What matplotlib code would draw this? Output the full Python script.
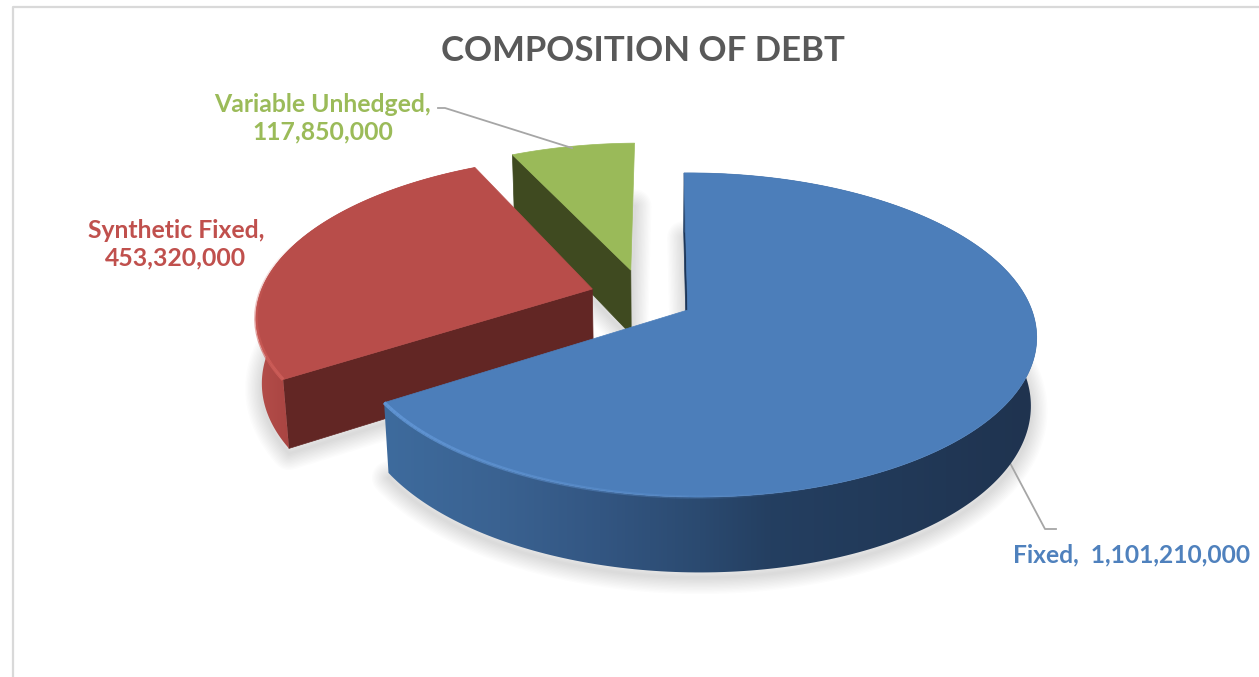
import matplotlib
matplotlib.use('Agg')
import matplotlib.pyplot as plt
from matplotlib.patches import Polygon
from matplotlib.collections import LineCollection
from matplotlib.colors import to_rgb
import numpy as np

plt.rcParams['font.family'] = ['Lato', 'DejaVu Sans']

title = 'COMPOSITION OF DEBT'
names = ['Fixed', 'Synthetic Fixed', 'Variable Unhedged']
values = [1101210000, 453320000, 117850000]
top_colors = ['#4c7eba', '#b84d4a', '#9aba59']
cut_colors = ['#1b3558', '#622624', '#3f4a20']
text_colors = ['#4f81bd', '#c0504d', '#9bbb59']

# camera for the tilted disc, everything in pixels
fx, fy = 660, 310
a, b, k, j = 338, 158, 0.154, -0.015
drop, q = 67.6, 0.015

# how far each slice is pulled out of the pie (disc units), and its radius
explode = [(0.082, 0.0), (-0.205, 0.136), (-0.09, 0.263)]
radius = [1.0, 1.02, 1.0]

# side wall shading, by screen x
wall_x = [[385, 500, 600, 700, 770, 1035], [250, 300]]
wall_c = [['#3e6b9d', '#3a6291', '#335682', '#2b4a70', '#243f61', '#1f334f'],
          ['#b6504c', '#a6413f']]


def project(u, v, low=False):
    w = 1 + k*v + j*u + (q if low else 0)
    x = fx + a*u/w
    y = fy + (-b*v + (drop if low else 0))/w
    return np.column_stack([x, y])


fig = plt.figure(figsize=(12.59, 6.77), dpi=100)
ax = fig.add_axes([0, 0, 1, 1])
ax.axis('off')

# chart frame, only top and left are in view
ax.plot([13.5, 13.5, 1259], [677, 6.5, 6.5], color='#d9d9d9', lw=1.6, zorder=1)

sweeps = np.array(values)/sum(values)*360
starts = np.concatenate([[0], np.cumsum(sweeps)[:-1]])

# soft shadows first so that they stay behind every slice
for s in range(3):
    th = np.radians(np.linspace(starts[s], starts[s] + sweeps[s], 160))
    ox, oy = explode[s]
    low = project(np.r_[ox, ox + radius[s]*np.sin(th)],
                  np.r_[oy, oy + radius[s]*np.cos(th)], low=True)
    low[:, 1] += 5
    for lw in np.linspace(24, 2, 12):
        ax.add_patch(Polygon(low, closed=True, fill=False, ec='black', alpha=0.012,
                             lw=lw, joinstyle='round', zorder=2))

# green at the back, blue in front
for s in [2, 1, 0]:
    th = np.radians(np.linspace(starts[s], starts[s] + sweeps[s], 240))
    ox, oy = explode[s]
    u = ox + radius[s]*np.sin(th)
    v = oy + radius[s]*np.cos(th)
    hi = project(u, v)
    lo = project(u, v, low=True)
    apex_hi = project(np.array([ox]), np.array([oy]))[0]
    apex_lo = project(np.array([ox]), np.array([oy]), low=True)[0]
    z = 10 + (2 - s)*5

    # the cut face that can be seen from the camera is always the starting one
    ax.add_patch(Polygon([apex_hi, hi[0], lo[0], apex_lo], closed=True,
                         fc=cut_colors[s], ec=cut_colors[s], lw=0.5, zorder=z))

    # curved wall: a horizontal gradient clipped to the rim band, green faces away
    if s != 2:
        band = Polygon(np.vstack([hi, lo[::-1]]), closed=True, transform=ax.transData)
        xs = np.linspace(hi[:, 0].min() - 5, hi[:, 0].max() + 5, 400)
        rgb = np.array([to_rgb(c) for c in wall_c[s]])
        grad = np.column_stack([np.interp(xs, wall_x[s], rgb[:, i]) for i in range(3)])
        ax.imshow(grad[np.newaxis, :, :], aspect='auto', zorder=z + 1,
                  extent=[xs[0], xs[-1], lo[:, 1].max() + 5, hi[:, 1].min() - 5],
                  clip_path=band, interpolation='bilinear')

    ax.add_patch(Polygon(np.vstack([apex_hi, hi]), closed=True, fc=top_colors[s],
                         ec=top_colors[s], lw=0.5, zorder=z + 2))

    # bevel highlight along the near rim
    if s != 2:
        segs = np.stack([hi[:-1], hi[1:]], axis=1)
        if s == 0:
            fade = np.clip(1 + (th[:-1] - th[-1])/np.radians(75), 0, 1)
            light = '#6398d8'
        else:
            fade = np.clip(1 - (th[:-1] - th[0])/np.radians(50), 0, 1)
            light = '#d05f5a'
        cols = [(*to_rgb(light), 0.9*f) for f in fade]
        ax.add_collection(LineCollection(segs, colors=cols, linewidths=2.6, zorder=z + 3))

# leader lines
ax.plot([438, 445, 572], [108, 108, 148], color='#a6a6a6', lw=1.3, zorder=30)
ax.plot([1010, 1045, 1056], [463, 529, 529], color='#a6a6a6', lw=1.3, zorder=5)

# title and data labels
ax.text(643, 51, title, ha='center', va='center', fontsize=25, fontweight='bold',
        color='#595959', zorder=40)
ax.text(323, 118, '%s,\n%s' % (names[2], format(values[2], ',')), ha='center', va='center',
        fontsize=17.8, fontweight='bold', color=text_colors[2], linespacing=1.25, zorder=40)
ax.text(176, 244, '%s,\n%s' % (names[1], format(values[1], ',')), ha='center', va='center',
        fontsize=17.8, fontweight='bold', color=text_colors[1], linespacing=1.25, zorder=40)
ax.text(1132, 555, '%s,  %s' % (names[0], format(values[0], ',')), ha='center', va='center',
        fontsize=17.7, fontweight='bold', color=text_colors[0], zorder=40)

ax.set_xlim(0, 1259)
ax.set_ylim(677, 0)

fig.savefig('out.png', dpi=100)
